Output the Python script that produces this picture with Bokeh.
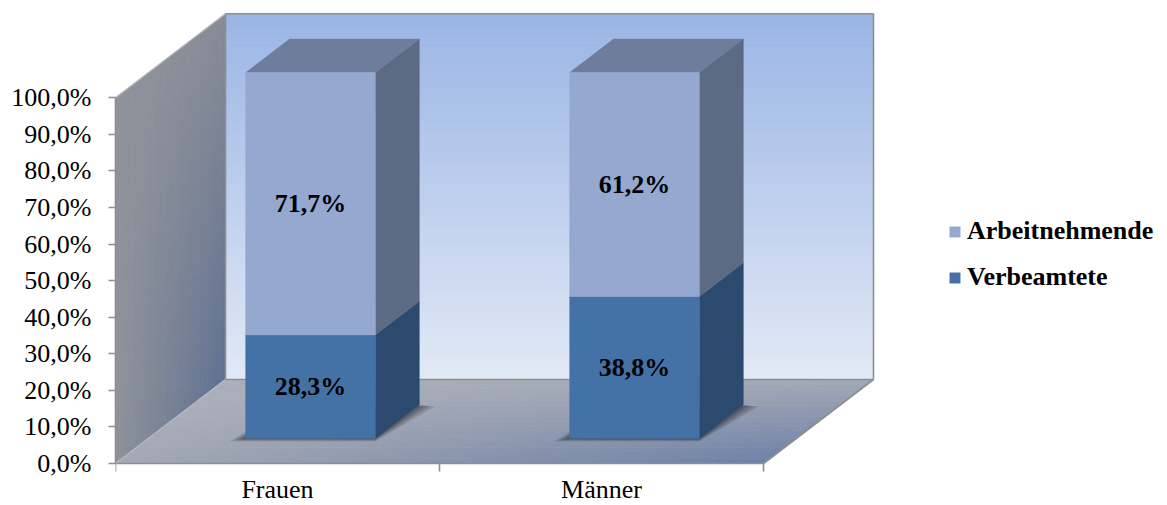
import numpy as np
from bokeh.plotting import figure
from bokeh.models import Range1d, LinearAxis, FixedTicker, Legend, LegendItem
from bokeh.core.properties import value
from bokeh.embed import file_html
from bokeh.resources import INLINE

# ---- data -------------------------------------------------------------
categories = ["Frauen", "Männer"]
verbeamtete = [28.3, 38.8]
arbeitnehmende = [71.7, 61.2]
series_names = ["Arbeitnehmende", "Verbeamtete"]
y_ticks = [0, 10, 20, 30, 40, 50, 60, 70, 80, 90, 100]
y_tick_labels = ["0,0%", "10,0%", "20,0%", "30,0%", "40,0%", "50,0%",
                 "60,0%", "70,0%", "80,0%", "90,0%", "100,0%"]

# ---- styling ----------------------------------------------------------
PX_X = 324.0          # pixels per category
PX_Y = 3.657          # pixels per percent
DX = 110.0 / PX_X     # oblique depth shift (category units)
DY = 84.0 / PX_Y      # oblique depth shift (percent units)
BAR_HALF = 0.2
Z_FRONT, Z_BACK = 0.3, 0.7
FONT = "Liberation Serif"

FRONT = {"Arbeitnehmende": "#94A8D0", "Verbeamtete": "#4472A6"}
SIDE = {"Arbeitnehmende": "#5C6A84", "Verbeamtete": "#2C4A6E"}
TOP = {"Arbeitnehmende": "#6E7D9B", "Verbeamtete": "#3A5A86"}
EDGE = "#8E8E8E"

W, H = 1167, 505
LEFT = 115            # left border (y axis area)
BASE_PX = 463         # pixel row of the floor's front edge


def proj(x, y, z):
    return x + z * DX, y + z * DY


def hex2rgb(h):
    h = h.lstrip("#")
    return np.array([int(h[i:i + 2], 16) for i in (0, 2, 4)], float)


def mix(c0, c1, t):
    c = hex2rgb(c0) * (1 - t) + hex2rgb(c1) * t
    return "#%02x%02x%02x" % tuple(int(round(v)) for v in c)


def bilerp(c00, c10, c01, c11, u, v):
    a = hex2rgb(c00) * (1 - u) + hex2rgb(c10) * u
    b = hex2rgb(c01) * (1 - u) + hex2rgb(c11) * u
    c = a * (1 - v) + b * v
    return "#%02x%02x%02x" % tuple(int(round(x)) for x in c)


n_cat = len(categories)

p = figure(width=W, height=H,
           x_range=Range1d(0, (W - LEFT) / PX_X),
           y_range=Range1d(-(H - BASE_PX) / PX_Y, BASE_PX / PX_Y),
           x_axis_type=None, y_axis_type=None,
           output_backend="svg", toolbar_location=None,
           min_border_left=LEFT, min_border_right=0, min_border_top=0, min_border_bottom=0)
p.outline_line_color = None
p.background_fill_color = "white"
p.border_fill_color = "white"

# ---- walls and floor (shaded with fine cells) -------------------------
xs, ys, cols = [], [], []

# back wall: vertical gradient
N = 90
for i in range(N):
    y0, y1 = 100 * i / N, 100 * (i + 1) / N
    ax, ay = proj(0, y0, 1)
    bx, by = proj(n_cat, y1, 1)
    xs.append([ax, bx, bx, ax])
    ys.append([ay, ay, by, by])
    cols.append(mix("#E2E9F6", "#9AB5E5", (i + 0.5) / N))

# left wall: grey at the front/top, blue toward the back/bottom
NZ, NY = 30, 40
for i in range(NZ):
    for j in range(NY):
        z0, z1 = i / NZ, (i + 1) / NZ
        y0, y1 = 100 * j / NY, 100 * (j + 1) / NY
        pts = [proj(0, y0, z0), proj(0, y0, z1), proj(0, y1, z1), proj(0, y1, z0)]
        xs.append([q[0] for q in pts])
        ys.append([q[1] for q in pts])
        cols.append(bilerp("#8E9299", "#5E7092", "#8F939B", "#878B95",
                           (i + 0.5) / NZ, (j + 0.5) / NY))

# floor
NX, NZF = 50, 16
for i in range(NX):
    for j in range(NZF):
        x0, x1 = n_cat * i / NX, n_cat * (i + 1) / NX
        z0, z1 = j / NZF, (j + 1) / NZF
        pts = [proj(x0, 0, z0), proj(x1, 0, z0), proj(x1, 0, z1), proj(x0, 0, z1)]
        xs.append([q[0] for q in pts])
        ys.append([q[1] for q in pts])
        cols.append(bilerp("#A3A8B4", "#6C80A6", "#ACB0BA", "#A2A8B6",
                           (i + 0.5) / NX, (j + 0.5) / NZF))

p.patches(xs=xs, ys=ys, fill_color=cols, line_color=cols, line_width=0.8)

# wall edges
edges = [
    [proj(0, 100, 1), proj(n_cat, 100, 1)],
    [proj(n_cat, 0, 1), proj(n_cat, 100, 1)],
    [proj(0, 0, 1), proj(n_cat, 0, 1)],
    [proj(n_cat, 0, 0), proj(n_cat, 0, 1)],
    [proj(0, 0, 1), proj(0, 100, 1)],
    [proj(0, 0, 0), proj(n_cat, 0, 0)],
]
p.multi_line(xs=[[a[0], b[0]] for a, b in edges], ys=[[a[1], b[1]] for a, b in edges],
             line_color=EDGE, line_width=1.6)
soft = [[proj(0, 100, 0), proj(0, 100, 1)], [proj(0, 0, 0), proj(0, 0, 1)]]
p.multi_line(xs=[[a[0], b[0]] for a, b in soft], ys=[[a[1], b[1]] for a, b in soft],
             line_color="#B4B8C0", line_width=1.2)

# category boundary ticks below the floor edge
tick_len = 8 / PX_Y
p.segment(x0=list(range(n_cat + 1)), y0=[0] * (n_cat + 1),
          x1=list(range(n_cat + 1)), y1=[-tick_len] * (n_cat + 1),
          line_color=EDGE, line_width=1.6)

# ---- soft shadows under the bars --------------------------------------
for e in [16, 12, 9, 6, 3]:
    sx, sy = [], []
    for k in range(n_cat):
        c = k + 0.5
        ex, ey = e / PX_X, e / 5.0 / PX_Y
        fl = proj(c - BAR_HALF, 0, Z_FRONT)
        fr = proj(c + BAR_HALF, 0, Z_FRONT)
        br = proj(c + BAR_HALF, 0, Z_BACK)
        bl = proj(c - BAR_HALF, 0, Z_BACK)
        sx.append([fl[0] - ex, fr[0], br[0] + ex, bl[0]])
        sy.append([fl[1] - ey, fr[1] - ey, br[1] - ey * 0.5, bl[1]])
    p.patches(xs=sx, ys=sy, fill_color="black", fill_alpha=0.11, line_color=None)

# ---- stacked 3D bars --------------------------------------------------
stack = {"Verbeamtete": verbeamtete, "Arbeitnehmende": arbeitnehmende}
order = ["Verbeamtete", "Arbeitnehmende"]
front_renderers = {}
label_x, label_y, label_t = [], [], []
for s_idx, name in enumerate(order):
    fx, fy, sxs, sys_, tx, ty = [], [], [], [], [], []
    for k in range(n_cat):
        c = k + 0.5
        base = sum(stack[o][k] for o in order[:s_idx])
        top = base + stack[name][k]
        x0, x1 = c - BAR_HALF, c + BAR_HALF
        f = [proj(x0, base, Z_FRONT), proj(x1, base, Z_FRONT),
             proj(x1, top, Z_FRONT), proj(x0, top, Z_FRONT)]
        fx.append([q[0] for q in f]); fy.append([q[1] for q in f])
        sd = [proj(x1, base, Z_FRONT), proj(x1, base, Z_BACK),
              proj(x1, top, Z_BACK), proj(x1, top, Z_FRONT)]
        sxs.append([q[0] for q in sd]); sys_.append([q[1] for q in sd])
        if s_idx == len(order) - 1:
            tp = [proj(x0, top, Z_FRONT), proj(x1, top, Z_FRONT),
                  proj(x1, top, Z_BACK), proj(x0, top, Z_BACK)]
            tx.append([q[0] for q in tp]); ty.append([q[1] for q in tp])
        lx, ly = proj(c, (base + top) / 2.0, Z_FRONT)
        label_x.append(lx); label_y.append(ly)
        label_t.append(("%.1f%%" % stack[name][k]).replace(".", ","))
    p.patches(xs=sxs, ys=sys_, fill_color=SIDE[name], line_color=SIDE[name], line_width=0.5)
    if tx:
        p.patches(xs=tx, ys=ty, fill_color=TOP[name], line_color=TOP[name], line_width=0.5)
    front_renderers[name] = p.patches(xs=fx, ys=fy, fill_color=FRONT[name],
                                      line_color=FRONT[name], line_width=0.5)

p.text(x=label_x, y=label_y, text=label_t, text_font=value(FONT), text_font_style="bold",
       text_font_size="26px", text_color="black", text_align="center", text_baseline="middle")

# category names under the floor
p.text(x=[k + 0.5 for k in range(n_cat)], y=[-26 / PX_Y] * n_cat, text=categories,
       text_font=value(FONT), text_font_size="26px", text_color="black",
       text_align="center", text_baseline="middle")

# ---- value axis -------------------------------------------------------
yaxis = LinearAxis(bounds=(0, 100), ticker=FixedTicker(ticks=y_ticks),
                   major_label_overrides={t: l for t, l in zip(y_ticks, y_tick_labels)})
yaxis.axis_line_color = EDGE
yaxis.axis_line_width = 1.6
yaxis.major_tick_line_color = EDGE
yaxis.major_tick_line_width = 1.6
yaxis.major_tick_out = 7
yaxis.major_tick_in = 0
yaxis.minor_tick_line_color = None
yaxis.major_label_standoff = 17
yaxis.major_label_text_font = FONT
yaxis.major_label_text_font_size = "26px"
yaxis.major_label_text_color = "black"
p.add_layout(yaxis, "left")

# ---- legend -----------------------------------------------------------
legend = Legend(items=[LegendItem(label=n, renderers=[front_renderers[n]]) for n in series_names],
                location=(833, 213), orientation="vertical")
legend.label_text_font = FONT
legend.label_text_font_style = "bold"
legend.label_text_font_size = "26px"
legend.label_text_color = "black"
legend.glyph_width = 13
legend.glyph_height = 13
legend.label_standoff = 6
legend.padding = 0
legend.margin = 0
legend.spacing = 16
legend.border_line_color = None
legend.background_fill_alpha = 0
p.add_layout(legend)

open("out.html", "w").write(file_html(p, INLINE))
